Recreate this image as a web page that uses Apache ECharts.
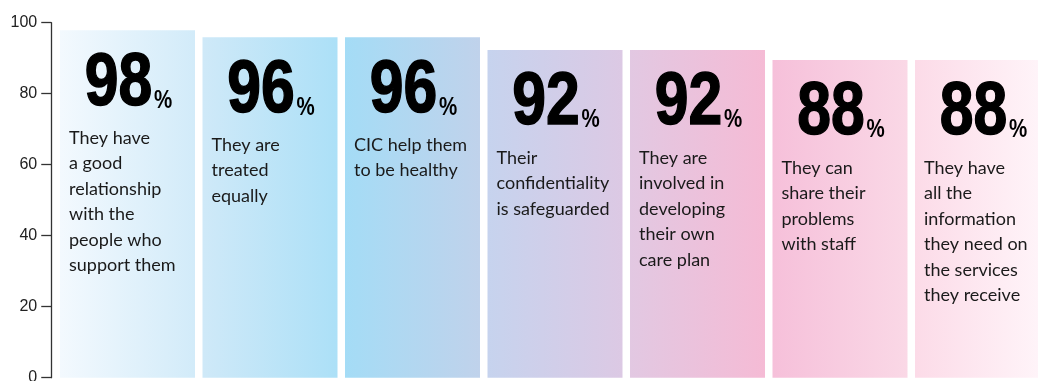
<!DOCTYPE html>
<html>
<head>
<meta charset="utf-8">
<script src="https://cdn.jsdelivr.net/npm/echarts@6/dist/echarts.min.js"></script>
<style>html,body{margin:0;padding:0;background:#fff;}#c{width:1038px;height:381px;}</style>
</head>
<body>
<div id="c"></div>
<script>
// Data
var categories = ['good relationship', 'treated equally', 'help to be healthy', 'confidentiality', 'care plan', 'share problems', 'information'];
var values = [97.9, 95.9, 95.9, 92.3, 92.3, 89.5, 89.5];
var percentLabels = ['98', '96', '96', '92', '92', '88', '88'];
var descriptions = [
  'They have\na good\nrelationship\nwith the\npeople who\nsupport them',
  'They are\ntreated\nequally',
  'CIC help them\nto be healthy',
  'Their\nconfidentiality\nis safeguarded',
  'They are\ninvolved in\ndeveloping\ntheir own\ncare plan',
  'They can\nshare their\nproblems\nwith staff',
  'They have\nall the\ninformation\nthey need on\nthe services\nthey receive'
];
var yTicks = [0, 20, 40, 60, 80, 100];

// Styles
var gradients = [
  ['#f3f9fe', '#d2ebf9'],
  ['#cfe9f8', '#ace0f7'],
  ['#a4dcf6', '#c0d2eb'],
  ['#c6d3ee', '#dcc9e4'],
  ['#e2c8e2', '#f5bbd5'],
  ['#f6c0da', '#fad8e6'],
  ['#fcdbe8', '#fff6fa']
];

var chart = echarts.init(document.getElementById('c'));
var barData = values.map(function (v, i) {
  return {
    value: v,
    itemStyle: {
      color: { type: 'linear', x: 0, y: 0, x2: 1, y2: 0,
        colorStops: [{ offset: 0, color: gradients[i][0] }, { offset: 1, color: gradients[i][1] }] }
    }
  };
});
var numFont = "'Liberation Sans', Arial, sans-serif";
chart.setOption({
  animation: false,
  grid: { left: 56.25, top: 22.7, width: 997.5, height: 355, outerBoundsMode: 'none', containLabel: false },
  xAxis: {
    type: 'category', data: categories,
    axisLine: { show: false }, axisTick: { show: false }, axisLabel: { show: false }, splitLine: { show: false }
  },
  yAxis: {
    type: 'value', min: 0, max: 100, interval: 20, offset: 5,
    axisLine: { show: true, lineStyle: { color: '#333', width: 1.3 } },
    axisTick: { show: true, length: 10, lineStyle: { color: '#333', width: 1.3 } },
    axisLabel: { color: '#222', fontSize: 16, margin: 14, fontFamily: "'Liberation Sans', Arial, sans-serif",
      formatter: function (v) { return yTicks.indexOf(v) >= 0 ? String(v) : ''; } },
    splitLine: { show: false }
  },
  series: [
    {
      type: 'bar', data: barData, barWidth: 135, barGap: '-100%',
      label: {
        show: true, position: 'insideTopLeft', offset: [4, 90],
        formatter: function (p) { return descriptions[p.dataIndex]; },
        fontSize: 18, lineHeight: 25.5, color: '#1a1a1a', fontFamily: "Lato, 'Open Sans', sans-serif"
      }
    },
    {
      type: 'custom',
      coordinateSystem: 'cartesian2d',
      clip: false,
      z: 10,
      data: values.map(function (v, i) { return [i, v]; }),
      renderItem: function (params, api) {
        var idx = params.dataIndex;
        var pt = api.coord([api.value(0), api.value(1)]);
        return {
          type: 'text',
          x: pt[0] + 1,
          y: pt[1] + 17,
          scaleX: 0.82,
          style: {
            text: '{n|' + percentLabels[idx] + '}{p|%}',
            fill: '#000',
            align: 'center',
            verticalAlign: 'top',
            rich: {
              n: { fontSize: 74, fontWeight: 'bold', fontFamily: numFont, fill: '#000', stroke: '#000', lineWidth: 1.5, lineHeight: 74, verticalAlign: 'bottom' },
              p: { fontSize: 25, fontWeight: 'bold', fontFamily: numFont, fill: '#000', verticalAlign: 'bottom', padding: [0, 0, 8, 2] }
            }
          }
        };
      }
    }
  ]
});
</script>
</body>
</html>
